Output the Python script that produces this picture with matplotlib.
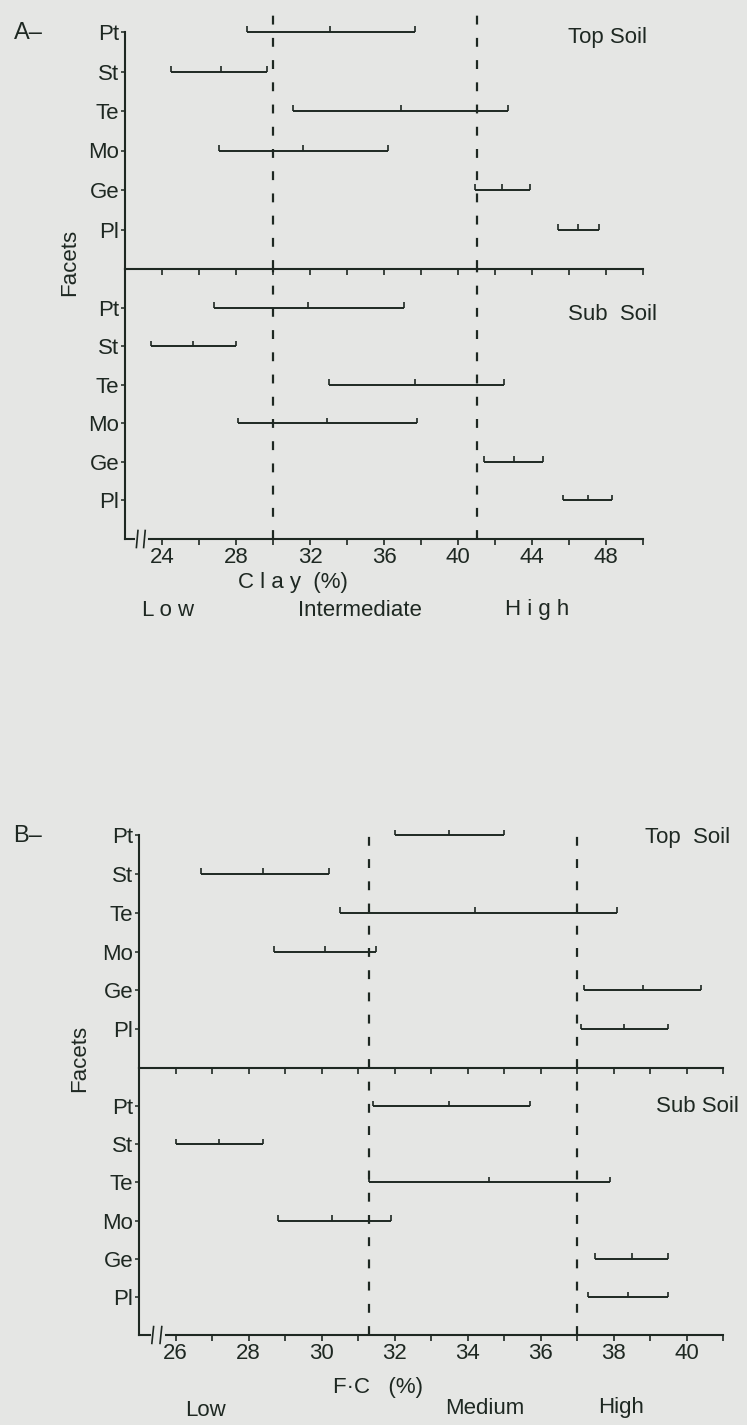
import matplotlib
matplotlib.use('Agg')
import matplotlib.pyplot as plt

plt.rcParams['font.family'] = ['Liberation Sans', 'DejaVu Sans']

INK = '#1e2822'
BG = '#e5e6e4'

facets = ['Pt', 'St', 'Te', 'Mo', 'Ge', 'Pl']

# A - clay (%): lower end, middle mark, upper end of each facet range
clay_top_lo = [28.6, 24.5, 31.1, 27.1, 40.9, 45.4]
clay_top_mid = [33.1, 27.2, 36.9, 31.6, 42.4, 46.5]
clay_top_hi = [37.7, 29.7, 42.7, 36.2, 43.9, 47.6]
clay_sub_lo = [26.8, 23.4, 33.0, 28.1, 41.4, 45.7]
clay_sub_mid = [31.9, 25.7, 37.7, 32.9, 43.0, 47.0]
clay_sub_hi = [37.1, 28.0, 42.5, 37.8, 44.6, 48.3]
clay_limits = [30, 41]
clay_ticks = list(range(24, 51, 2))
clay_ticklabels = ['24', '', '28', '', '32', '', '36', '', '40', '', '44', '', '48', '']

# B - field capacity (%)
fc_top_lo = [32.0, 26.7, 30.5, 28.7, 37.2, 37.1]
fc_top_mid = [33.5, 28.4, 34.2, 30.1, 38.8, 38.3]
fc_top_hi = [35.0, 30.2, 38.1, 31.5, 40.4, 39.5]
fc_sub_lo = [31.4, 26.0, 31.3, 28.8, 37.5, 37.3]
fc_sub_mid = [33.5, 27.2, 34.6, 30.3, 38.5, 38.4]
fc_sub_hi = [35.7, 28.4, 37.9, 31.9, 39.5, 39.5]
fc_limits = [31.3, 37]
fc_ticks = list(range(26, 42))
fc_ticklabels = ['26', '', '28', '', '30', '', '32', '', '34', '', '36', '', '38', '', '40', '']

W, H = 747, 1425
fig = plt.figure(figsize=(W / 100, H / 100), dpi=100, facecolor=BG)


def rect(left, top, right, bottom):
    return [left / W, 1 - bottom / H, (right - left) / W, (bottom - top) / H]


def draw_bars(ax, lo, mid, hi):
    y = list(range(len(facets), 0, -1))
    ax.hlines(y, lo, hi, color=INK, lw=1.4, clip_on=False)
    for v in (lo, mid, hi):
        ax.vlines(v, y, [yy + 0.14 for yy in y], color=INK, lw=1.2, clip_on=False)
    ax.set_yticks(y)
    ax.set_yticklabels(facets, fontsize=16)


def style(ax, xlim, ylim, ticks, labels, show_labels):
    ax.set_facecolor('none')
    ax.set_xlim(*xlim)
    ax.set_ylim(*ylim)
    for s in ('top', 'right'):
        ax.spines[s].set_visible(False)
    for s in ('left', 'bottom'):
        ax.spines[s].set_color(INK)
        ax.spines[s].set_linewidth(1.5)
    ax.set_xticks(ticks)
    if show_labels:
        ax.set_xticklabels(labels, fontsize=16)
    else:
        ax.set_xticklabels([])
    ax.tick_params(axis='x', direction='out', length=4, width=1.2, color=INK, pad=2, labelcolor=INK)
    ax.tick_params(axis='y', direction='out', length=3, width=1.1, color=INK, pad=1, labelcolor=INK)


def panel(top_rect, sub_rect, xlim, ticks, labels, limits, top_data, sub_data, dash_top):
    ax_top = fig.add_axes(rect(*top_rect))
    ax_sub = fig.add_axes(rect(*sub_rect))
    style(ax_top, xlim, (0, 6), ticks, labels, False)
    style(ax_sub, xlim, (0, 7), ticks, labels, True)
    draw_bars(ax_top, *top_data)
    draw_bars(ax_sub, *sub_data)
    for x in limits:
        ax_top.vlines(x, 0, dash_top, color=INK, lw=1.6, linestyles=(0, (4, 6)), clip_on=False)
        ax_sub.vlines(x, 0, 7, color=INK, lw=1.6, linestyles=(0, (4, 6)))
    # axis break near the origin
    span = xlim[1] - xlim[0]
    x0 = xlim[0]
    ax_sub.spines['bottom'].set_bounds(x0 + span * 0.047, xlim[1])
    ax_sub.plot([x0, x0 + span * 0.018], [0, 0], color=INK, lw=1.5, clip_on=False)
    for f in (0.022, 0.036):
        ax_sub.plot([x0 + span * f, x0 + span * (f + 0.003)], [-0.22, 0.22], color=INK, lw=1.2, clip_on=False)
    return ax_top, ax_sub


panel((125, 32, 643, 269), (125, 269, 643, 539), (22, 50), clay_ticks, clay_ticklabels, clay_limits,
      (clay_top_lo, clay_top_mid, clay_top_hi), (clay_sub_lo, clay_sub_mid, clay_sub_hi), 6.5)
panel((139, 835, 723, 1068), (139, 1068, 723, 1335), (25, 41), fc_ticks, fc_ticklabels, fc_limits,
      (fc_top_lo, fc_top_mid, fc_top_hi), (fc_sub_lo, fc_sub_mid, fc_sub_hi), 6.05)


def label(x, y, s, size=16, **kw):
    fig.text(x / W, 1 - y / H, s, fontsize=size, color=INK, ha='center', va='center', **kw)


label(28, 33, 'A\u2013', 17)
label(607, 37, 'Top Soil')
label(612, 314, 'Sub  Soil')
label(70, 262, 'Facets', rotation=90)
label(293, 582, 'C l a y  (%)')
label(168, 611, 'L o w')
label(360, 610, 'Intermediate')
label(537, 610, 'H i g h')

label(28, 836, 'B\u2013', 17)
label(688, 838, 'Top  Soil')
label(697, 1107, 'Sub Soil')
label(80, 1058, 'Facets', rotation=90)
label(378, 1388, 'F\u00b7C   (%)')
label(205, 1410, 'Low')
label(485, 1408, 'Medium')
label(621, 1408, 'High')

fig.savefig('out.png', dpi=100, facecolor=BG)
